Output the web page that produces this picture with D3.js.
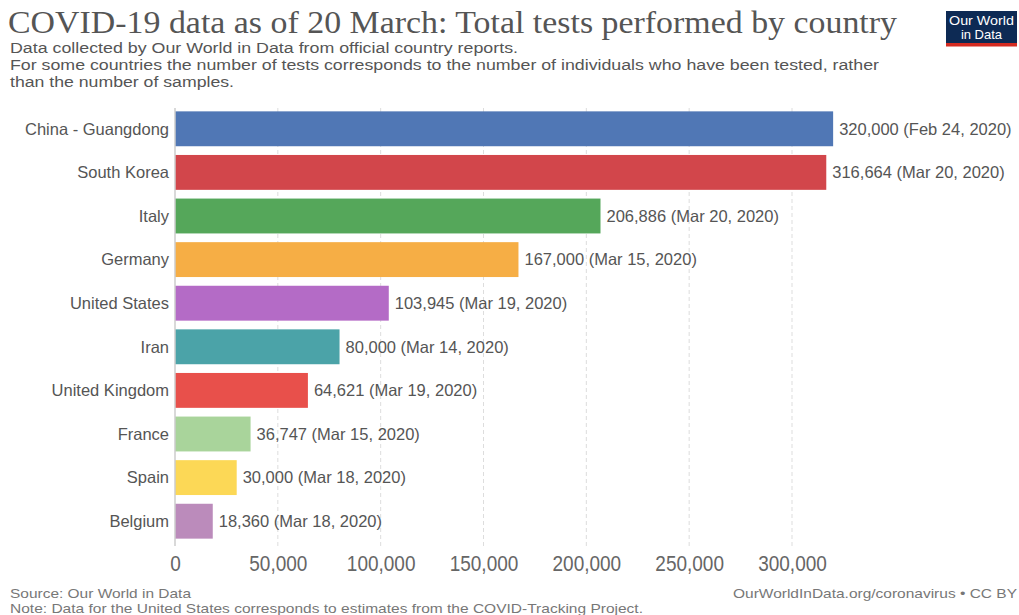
<!DOCTYPE html>
<html><head><meta charset="utf-8">
<script src="https://cdn.jsdelivr.net/npm/d3@7"></script>
<style>body{margin:0;background:#fff}svg{display:block}</style>
</head><body><svg id="c" width="1019" height="615"></svg>
<script>
const countries = ["China - Guangdong","South Korea","Italy","Germany","United States","Iran","United Kingdom","France","Spain","Belgium"];
const tests = [320000,316664,206886,167000,103945,80000,64621,36747,30000,18360];
const dates = ["Feb 24, 2020","Mar 20, 2020","Mar 20, 2020","Mar 15, 2020","Mar 19, 2020","Mar 14, 2020","Mar 19, 2020","Mar 15, 2020","Mar 18, 2020","Mar 18, 2020"];
const colors = ["#5077b5","#d2464b","#55a75a","#f6ae45","#b46bc6","#4ba3a8","#e8504b","#a9d49b","#fcd856","#bb8bbb"];
const xTicks = [0,50000,100000,150000,200000,250000,300000];

const svg = d3.select("#c");
const fmt = d3.format(",");
const x = d3.scaleLinear().domain([0,300000]).range([175,792]);
const y = d3.scaleBand().domain(countries).range([107,543]).paddingInner(0.2).paddingOuter(0.1);

// title
svg.append("text").attr("x",8).attr("y",33).attr("font-family","Liberation Serif, serif")
  .attr("font-size",31).attr("fill","#555").attr("textLength",889).attr("lengthAdjust","spacingAndGlyphs")
  .text("COVID-19 data as of 20 March: Total tests performed by country");
const sub = [["Data collected by Our World in Data from official country reports.",53,508],
  ["For some countries the number of tests corresponds to the number of individuals who have been tested, rather",70,869],
  ["than the number of samples.",87,224]];
sub.forEach(s=>svg.append("text").attr("x",10).attr("y",s[1]).attr("font-family","Liberation Sans, Arial, sans-serif")
  .attr("font-size",15.5).attr("fill","#555").attr("textLength",s[2]).attr("lengthAdjust","spacingAndGlyphs").text(s[0]));

// logo
const lg = svg.append("g");
lg.append("rect").attr("x",946).attr("y",11).attr("width",71).attr("height",35).attr("fill","#0d2a54");
lg.append("rect").attr("x",946).attr("y",43).attr("width",71).attr("height",3.5).attr("fill","#d42b21");
lg.append("text").attr("x",981.5).attr("y",25).attr("text-anchor","middle").attr("font-family","Liberation Sans, Arial, sans-serif")
  .attr("font-size",13).attr("fill","#fff").attr("textLength",65).attr("lengthAdjust","spacingAndGlyphs").text("Our World");
lg.append("text").attr("x",981.5).attr("y",39).attr("text-anchor","middle").attr("font-family","Liberation Sans, Arial, sans-serif")
  .attr("font-size",13).attr("fill","#fff").text("in Data");

// grid
const gridT = 108, gridB = 546;
svg.append("g").selectAll("line").data(xTicks.slice(1)).join("line")
  .attr("x1",d=>x(d)).attr("x2",d=>x(d)).attr("y1",gridT).attr("y2",gridB)
  .attr("stroke","#ddd").attr("stroke-dasharray","4,3").attr("stroke-width",1);

// bars
svg.append("g").selectAll("rect").data(countries).join("rect")
  .attr("x",x(0)).attr("y",d=>y(d)).attr("width",(d,i)=>x(tests[i])-x(0)).attr("height",y.bandwidth())
  .attr("fill",(d,i)=>colors[i]);
svg.append("line").attr("x1",x(0)).attr("x2",x(0)).attr("y1",gridT).attr("y2",gridB).attr("stroke","#ccc").attr("stroke-width",1.5);

// category labels
svg.append("g").selectAll("text").data(countries).join("text")
  .attr("x",x(0)-6).attr("y",d=>y(d)+y.bandwidth()/2).attr("dy","0.35em").attr("text-anchor","end")
  .attr("font-family","Liberation Sans, Arial, sans-serif").attr("font-size",16.5).attr("fill","#555").text(d=>d);
// value labels
svg.append("g").selectAll("text").data(countries).join("text")
  .attr("x",(d,i)=>x(tests[i])+6).attr("y",d=>y(d)+y.bandwidth()/2).attr("dy","0.35em")
  .attr("font-family","Liberation Sans, Arial, sans-serif").attr("font-size",16.5).attr("fill","#555")
  .text((d,i)=>fmt(tests[i])+" ("+dates[i]+")");

// x axis
const ax = svg.append("g").attr("transform","translate(0,546)")
  .call(d3.axisBottom(x).tickValues(xTicks).tickFormat(fmt).tickSize(0).tickPadding(11));
ax.select(".domain").remove();
ax.selectAll("text").attr("font-family","Liberation Sans, Arial, sans-serif").attr("font-size",19).attr("fill","#666")
  .attr("transform","scale(1,1.12)").style("transform-box","fill-box").style("transform-origin","center");

// footer
const ft = (t,xx,yy,anchor,len)=>svg.append("text").attr("x",xx).attr("y",yy).attr("text-anchor",anchor)
  .attr("font-family","Liberation Sans, Arial, sans-serif").attr("font-size",13.5).attr("fill","#777")
  .attr("textLength",len).attr("lengthAdjust","spacingAndGlyphs").text(t);
ft("Source: Our World in Data",10,598,"start",181);
ft("Note: Data for the United States corresponds to estimates from the COVID-Tracking Project.",10,613,"start",633);
ft("OurWorldInData.org/coronavirus • CC BY",1017,598,"end",284);
</script></body></html>
